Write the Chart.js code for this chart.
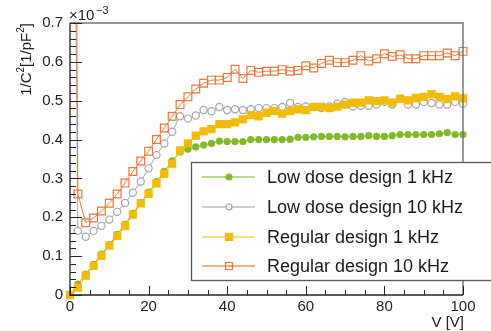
<!DOCTYPE html>
<html>
<head>
<meta charset="utf-8">
<script src="https://cdn.jsdelivr.net/npm/chart.js@4.4.1/dist/chart.umd.min.js"></script>
<style>
  html, body { margin: 0; padding: 0; background: #fff; }
  #cv { display: block; }
</style>
</head>
<body>
<canvas id="cv" width="491" height="331" style="width:491px;height:331px"></canvas>
<script>
// --- dados (valores em 10^-3 1/pF^2) ---
const voltages = [0,2,4,6,8,10,12,14,16,18,20,22,24,26,28,30,32,34,36,38,40,42,44,46,48,50,
  52,54,56,58,60,62,64,66,68,70,72,74,76,78,80,82,84,86,88,90,92,94,96,98,100];

const lowDose1k = [0,0.028,0.054,0.079,0.105,0.13,0.156,0.182,0.21,0.238,0.265,0.292,0.318,0.345,0.368,0.375,0.381,0.386,0.39,0.396,0.395,0.395,0.395,0.4,0.4,0.4,
  0.4,0.4,0.401,0.406,0.406,0.407,0.408,0.408,0.408,0.407,0.408,0.408,0.41,0.408,0.408,0.41,0.413,0.413,0.413,0.413,0.413,0.415,0.418,0.413,0.413];

const lowDose10k = [2.5,0.165,0.15,0.165,0.178,0.194,0.214,0.237,0.263,0.292,0.326,0.36,0.39,0.42,0.46,0.454,0.462,0.476,0.473,0.484,0.476,0.478,0.476,0.478,0.481,0.481,
  0.481,0.484,0.494,0.484,0.485,0.484,0.481,0.485,0.492,0.497,0.485,0.487,0.487,0.49,0.497,0.49,0.505,0.49,0.49,0.497,0.494,0.49,0.49,0.497,0.492];

const regular1k = [0,0.019,0.05,0.075,0.101,0.127,0.152,0.177,0.207,0.236,0.26,0.287,0.312,0.338,0.372,0.39,0.41,0.421,0.427,0.44,0.44,0.444,0.452,0.463,0.46,0.469,
  0.473,0.467,0.473,0.478,0.476,0.484,0.484,0.481,0.485,0.49,0.495,0.495,0.501,0.499,0.501,0.495,0.505,0.501,0.507,0.51,0.517,0.51,0.504,0.511,0.506];

const regular10k = [3.5,0.26,0.186,0.198,0.216,0.236,0.26,0.288,0.318,0.345,0.37,0.4,0.43,0.46,0.49,0.51,0.53,0.545,0.553,0.553,0.56,0.581,0.557,0.578,0.573,0.576,
  0.576,0.58,0.576,0.578,0.59,0.584,0.596,0.604,0.598,0.598,0.604,0.616,0.602,0.608,0.621,0.614,0.618,0.608,0.608,0.616,0.616,0.616,0.623,0.616,0.627];

const seriesNames = ['Low dose design 1 kHz','Low dose design 10 kHz','Regular design 1 kHz','Regular design 10 kHz'];
const xTicks = [0,20,40,60,80,100];
const yTicks = [0,0.1,0.2,0.3,0.4,0.5,0.6,0.7];

const FONT = '"Liberation Sans", Arial, sans-serif';

function pts(arr) { return voltages.map((v, i) => ({ x: v, y: arr[i] })); }

const legendLines = ['#b9d98c', '#cccccc', '#f9dc85', '#f3b08f'];

function mkSet(label, data, color, fill, style, radius, order) {
  return {
    label: label,
    data: pts(data),
    borderColor: color,
    borderWidth: 1,
    pointStyle: style,
    pointRadius: radius,
    pointBackgroundColor: fill,
    pointBorderColor: color,
    pointBorderWidth: 1.2,
    tension: 0,
    order: order,
    clip: { left: 8, right: 8, top: 0, bottom: 8 }
  };
}

// frame + ticks estilo ROOT
const rootFrame = {
  id: 'rootFrame',
  afterDatasetsDraw(chart) {
    const ctx = chart.ctx, a = chart.chartArea;
    const xs = chart.scales.x, ys = chart.scales.y;
    ctx.save();
    ctx.lineWidth = 1.5;
    ctx.strokeStyle = '#777';
    ctx.beginPath();
    ctx.moveTo(a.left, a.top); ctx.lineTo(a.right, a.top); ctx.lineTo(a.right, a.bottom);
    ctx.stroke();
    ctx.strokeStyle = '#222';
    ctx.lineWidth = 1.3;
    ctx.beginPath();
    ctx.moveTo(a.left, a.top); ctx.lineTo(a.left, a.bottom); ctx.lineTo(a.right, a.bottom);
    ctx.stroke();
    ctx.lineWidth = 1;
    ctx.beginPath();
    for (let v = 0; v <= 100; v += 5) {
      const px = Math.round(xs.getPixelForValue(v)) + 0.5;
      const len = v % 20 === 0 ? 9 : 5;
      ctx.moveTo(px, a.bottom); ctx.lineTo(px, a.bottom - len);
    }
    for (let k = 0; k <= 35; k++) {
      const py = Math.round(ys.getPixelForValue(k * 0.02)) + 0.5;
      const len = k % 5 === 0 ? 12 : 6;
      ctx.moveTo(a.left, py); ctx.lineTo(a.left + len, py);
    }
    ctx.stroke();

    // x10^-3
    ctx.fillStyle = '#222';
    ctx.font = '15px ' + FONT;
    ctx.textBaseline = 'alphabetic';
    ctx.textAlign = 'left';
    ctx.fillText('\u00d710', a.left - 1, a.top - 3);
    ctx.font = '11px ' + FONT;
    ctx.fillText('\u22123', a.left + 26, a.top - 9);

    // titulo eixo y
    ctx.save();
    ctx.translate(31, a.top);
    ctx.rotate(-Math.PI / 2);
    ctx.font = '15px ' + FONT;
    const p1 = '1/C', p2 = '[1/pF', p3 = ']';
    const w1 = ctx.measureText(p1).width, w2 = ctx.measureText(p2).width, w3 = ctx.measureText(p3).width;
    ctx.font = '10px ' + FONT;
    const ws = ctx.measureText('2').width;
    const total = w1 + ws + w2 + ws + w3;
    ctx.textAlign = 'left';
    let x0 = -total;
    ctx.font = '15px ' + FONT; ctx.fillText(p1, x0, 0); x0 += w1;
    ctx.font = '10px ' + FONT; ctx.fillText('2', x0, -7); x0 += ws;
    ctx.font = '15px ' + FONT; ctx.fillText(p2, x0, 0); x0 += w2;
    ctx.font = '10px ' + FONT; ctx.fillText('2', x0, -7); x0 += ws;
    ctx.font = '15px ' + FONT; ctx.fillText(p3, x0, 0);
    ctx.restore();

    // titulo eixo x
    ctx.font = '15px ' + FONT;
    ctx.textAlign = 'right';
    ctx.fillText('V [V]', a.right + 1, 327);
    ctx.restore();
  },
  afterDraw(chart) {
    // legenda
    const ctx = chart.ctx;
    ctx.save();
    ctx.fillStyle = '#fff';
    ctx.fillRect(191, 162, 300, 119);
    ctx.strokeStyle = '#555';
    ctx.lineWidth = 1.3;
    ctx.strokeRect(191.5, 162.5, 310, 118);
    const rows = [177, 207, 237, 266];
    chart.data.datasets.forEach((ds, i) => {
      const y = rows[i];
      ctx.strokeStyle = legendLines[i];
      ctx.lineWidth = 2;
      ctx.beginPath(); ctx.moveTo(202, y); ctx.lineTo(255, y); ctx.stroke();
      ctx.fillStyle = ds.pointBackgroundColor;
      ctx.strokeStyle = ds.pointBorderColor;
      ctx.lineWidth = 1.2;
      if (ds.pointStyle === 'circle') {
        ctx.beginPath(); ctx.arc(229, y, 3, 0, Math.PI * 2); ctx.fill(); ctx.stroke();
      } else {
        ctx.fillRect(225.5, y - 3.5, 7, 7); ctx.strokeRect(225.5, y - 3.5, 7, 7);
      }
      ctx.fillStyle = '#1a1a1a';
      ctx.font = '18px ' + FONT;
      ctx.textAlign = 'left';
      ctx.textBaseline = 'middle';
      ctx.fillText(ds.label, 267, y + 1);
    });
    ctx.restore();
  }
};

new Chart(document.getElementById('cv'), {
  type: 'line',
  data: {
    datasets: [
      mkSet(seriesNames[0], lowDose1k, '#82b92a', '#82b92a', 'circle', 3, 4),
      mkSet(seriesNames[1], lowDose10k, '#a6a6a6', '#ffffff', 'circle', 3.6, 3),
      mkSet(seriesNames[2], regular1k, '#f2bb0a', '#f2bb0a', 'rect', 5, 2),
      mkSet(seriesNames[3], regular10k, '#e9773f', 'rgba(255,255,255,0)', 'rect', 5.5, 1)
    ]
  },
  options: {
    responsive: false,
    animation: false,
    devicePixelRatio: 1,
    layout: { padding: { top: 23, right: 28, left: 0, bottom: 0 } },
    plugins: { legend: { display: false }, tooltip: { enabled: false } },
    scales: {
      x: {
        type: 'linear', min: 0, max: 100,
        afterBuildTicks: s => { s.ticks = xTicks.map(v => ({ value: v })); },
        afterFit: s => { s.height = 36; },
        grid: { display: false, drawTicks: false },
        border: { display: false },
        ticks: { color: '#222', font: { family: FONT, size: 15 }, padding: 3, maxRotation: 0 }
      },
      y: {
        type: 'linear', min: 0, max: 0.7,
        afterBuildTicks: s => { s.ticks = yTicks.map(v => ({ value: v })); },
        afterFit: s => { s.width = 70; },
        grid: { display: false, drawTicks: false },
        border: { display: false },
        ticks: { color: '#222', font: { family: FONT, size: 15 }, padding: 7,
          callback: v => (v === 0 ? '0' : v.toFixed(1)) }
      }
    }
  },
  plugins: [rootFrame]
});
</script>
</body>
</html>
